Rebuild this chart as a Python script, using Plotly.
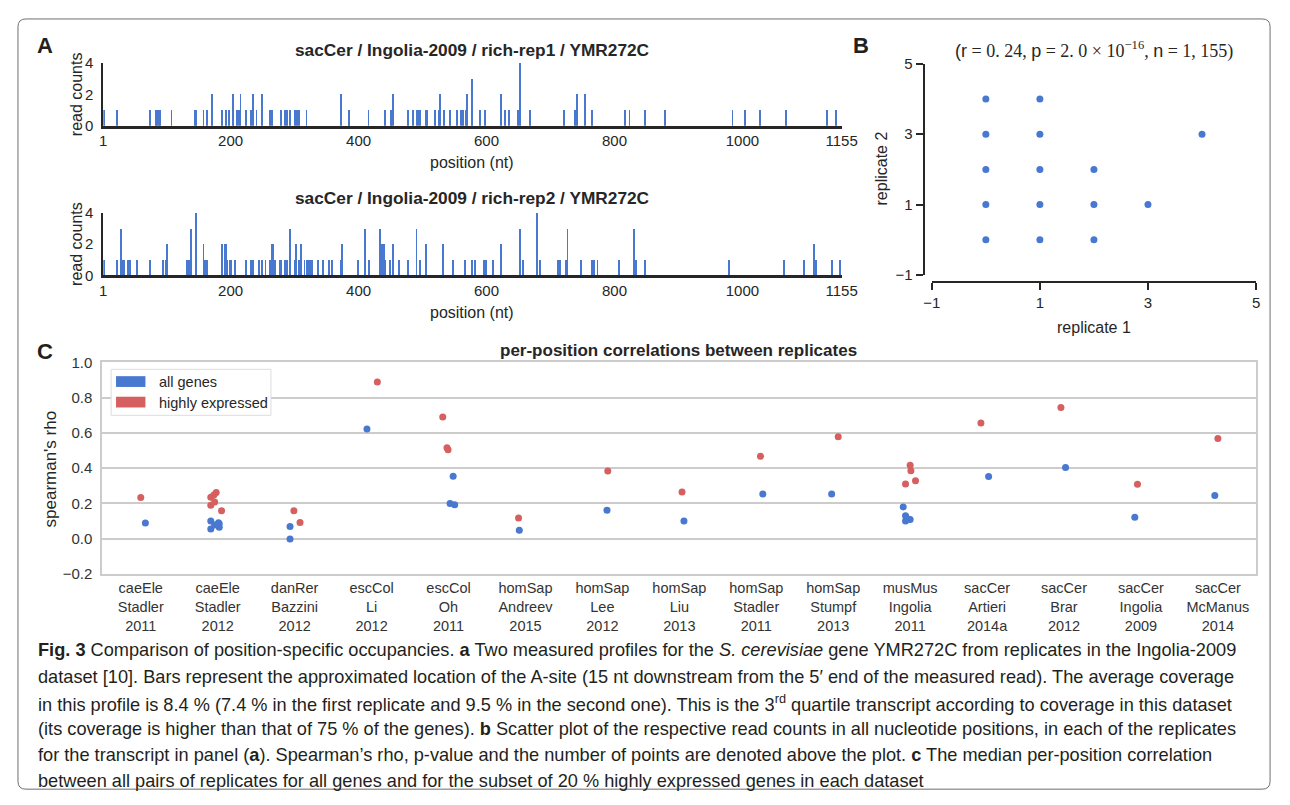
import plotly.graph_objects as go

# The page body keeps an 8 px margin, so the figure is drawn 8 px smaller and coordinates are offset.
OFF = 8
W, H = 1290 - OFF, 805 - OFF

# ---------------- Panel A data (position in nt, read counts) ----------------
a_xticks = [1, 200, 400, 600, 800, 1000, 1155]
a_yticks = [0, 2, 4]
rep1_pos = [3, 23, 75, 84, 86, 89, 90, 108, 145, 147, 158, 163, 172, 187, 193, 198, 204, 205,
            210, 213, 216, 224, 233, 235, 241, 250, 262, 265, 279, 285, 288, 293, 301, 304, 307,
            319, 373, 385, 386, 416, 442, 451, 452, 454, 478, 485, 491, 494, 497, 506, 508, 520,
            526, 528, 534, 544, 554, 561, 564, 569, 570, 578, 590, 598, 623, 630, 635, 650, 653,
            669, 721, 739, 742, 755, 765, 817, 824, 848, 880, 985, 1005, 1028, 1069, 1132, 1147]
rep1_cnt = [1, 1, 1, 1, 1, 1, 1, 1, 1, 1, 1, 1, 2, 1, 1, 1, 2, 2,
            1, 1, 2, 1, 1, 2, 1, 2, 1, 1, 1, 1, 1, 1, 1, 1, 1,
            1, 2, 1, 1, 1, 1, 1, 1, 2, 1, 1, 1, 1, 1, 1, 1, 1,
            1, 2, 1, 1, 1, 1, 1, 1, 2, 3, 1, 1, 2, 1, 1, 1, 4,
            1, 1, 1, 2, 2, 1, 1, 1, 1, 1, 1, 1, 1, 1, 1, 1]
rep2_pos = [3, 23, 29, 31, 34, 40, 43, 54, 74, 95, 100, 101, 132, 136, 138, 147, 158, 161, 163,
            187, 192, 193, 195, 199, 201, 207, 224, 233, 235, 245, 250, 255, 262, 265, 267, 270,
            278, 279, 285, 288, 293, 301, 302, 308, 311, 316, 319, 322, 325, 327, 328, 337, 344,
            345, 354, 359, 373, 374, 400, 411, 417, 434, 436, 437, 440, 442, 449, 454, 463, 478,
            491, 497, 506, 532, 548, 567, 578, 583, 597, 598, 600, 610, 623, 653, 658, 679, 684,
            712, 715, 725, 727, 748, 765, 768, 774, 807, 831, 834, 848, 979, 1066, 1097, 1112,
            1115, 1141, 1153]
rep2_cnt = [1, 1, 3, 1, 1, 1, 1, 1, 1, 1, 1, 2, 1, 1, 3, 4, 2, 1, 1,
            2, 2, 2, 1, 1, 1, 1, 1, 1, 1, 1, 1, 1, 1, 2, 2, 1,
            1, 1, 1, 1, 3, 1, 2, 1, 2, 1, 1, 1, 1, 1, 1, 1, 1,
            1, 1, 1, 1, 2, 1, 3, 1, 3, 1, 2, 2, 1, 1, 2, 1, 1,
            3, 1, 2, 2, 1, 1, 1, 1, 1, 1, 1, 1, 2, 3, 1, 4, 1,
            1, 1, 1, 3, 1, 1, 1, 1, 1, 3, 1, 1, 1, 1, 1, 2,
            1, 1, 1]
title_rep1 = "sacCer / Ingolia-2009 / rich-rep1 / YMR272C"
title_rep2 = "sacCer / Ingolia-2009 / rich-rep2 / YMR272C"

# ---------------- Panel B data (distinct count pairs) ----------------
b_rep1 = [0, 1, 2, 0, 1, 2, 3, 0, 1, 2, 0, 1, 4, 0, 1]
b_rep2 = [0, 0, 0, 1, 1, 1, 1, 2, 2, 2, 3, 3, 3, 4, 4]
b_ticks = [-1, 1, 3, 5]

# ---------------- Panel C data ----------------
org = ["caeEle", "caeEle", "danRer", "escCol", "escCol", "homSap", "homSap", "homSap",
       "homSap", "homSap", "musMus", "sacCer", "sacCer", "sacCer", "sacCer"]
author = ["Stadler", "Stadler", "Bazzini", "Li", "Oh", "Andreev", "Lee", "Liu",
          "Stadler", "Stumpf", "Ingolia", "Artieri", "Brar", "Ingolia", "McManus"]
year = ["2011", "2012", "2012", "2012", "2011", "2015", "2012", "2013",
        "2011", "2013", "2011", "2014a", "2012", "2009", "2014"]
rho_all = [[0.089], [0.10, 0.09, 0.085, 0.065, 0.055, 0.078], [0.069, -0.002], [0.623],
           [0.354, 0.199, 0.193], [0.048], [0.161], [0.100], [0.254], [0.254],
           [0.180, 0.130, 0.100, 0.108, 0.112], [0.352], [0.404], [0.121], [0.245]]
rho_high = [[0.234], [0.235, 0.248, 0.262, 0.208, 0.19, 0.158], [0.158, 0.091], [0.889],
            [0.690, 0.516, 0.505], [0.117], [0.384], [0.265], [0.468], [0.579],
            [0.416, 0.386, 0.328, 0.310], [0.657], [0.744], [0.308], [0.568]]
# horizontal strip-plot jitter (category units)
jit_all = [[0.06], [-0.09, 0.01, 0.02, 0.02, -0.09, -0.04], [-0.06, -0.06], [-0.06],
           [0.06, 0.02, 0.08], [-0.08], [0.06], [0.06], [0.085], [-0.02],
           [-0.09, -0.06, -0.06, 0.0, -0.03], [0.02], [0.02], [-0.08], [-0.04]]
jit_high = [[0.0], [-0.09, -0.05, -0.02, -0.04, -0.09, 0.05], [-0.01, 0.07], [0.075],
            [-0.075, -0.02, -0.006], [-0.09], [0.07], [0.035], [0.055], [0.065],
            [0.0, 0.01, 0.07, -0.06], [-0.08], [-0.04], [-0.045], [0.0]]
c_yticks = [-0.2, 0.0, 0.2, 0.4, 0.6, 0.8, 1.0]
legend_labels = ["all genes", "highly expressed"]

BLUE = "#4878CF"
RED = "#D65F5F"
DARK = "#262626"
SANS = "Liberation Sans, Arial, sans-serif"


def fx(px):
    return (px - OFF) / W


def fy(py):
    return 1 - (py - OFF) / H


fig = go.Figure()

# ---- Panel A bars
fig.add_trace(go.Bar(x=rep1_pos, y=rep1_cnt, width=1.4, marker=dict(color=BLUE, line=dict(width=0)),
                     xaxis="x", yaxis="y", showlegend=False))
fig.add_trace(go.Bar(x=rep2_pos, y=rep2_cnt, width=1.4, marker=dict(color=BLUE, line=dict(width=0)),
                     xaxis="x2", yaxis="y2", showlegend=False))

# ---- Panel B scatter
fig.add_trace(go.Scatter(x=b_rep1, y=b_rep2, mode="markers", marker=dict(color=BLUE, size=7),
                         xaxis="x3", yaxis="y3", showlegend=False))

# ---- Panel C strip plot
xa, ya, xh, yh = [], [], [], []
for i in range(len(org)):
    for v, j in zip(rho_all[i], jit_all[i]):
        xa.append(i + j)
        ya.append(v)
    for v, j in zip(rho_high[i], jit_high[i]):
        xh.append(i + j)
        yh.append(v)
fig.add_trace(go.Scatter(x=xa, y=ya, mode="markers", marker=dict(color=BLUE, size=7),
                         name=legend_labels[0], xaxis="x4", yaxis="y4", showlegend=False))
fig.add_trace(go.Scatter(x=xh, y=yh, mode="markers", marker=dict(color=RED, size=7),
                         name=legend_labels[1], xaxis="x4", yaxis="y4", showlegend=False))

tickfont = dict(family=SANS, size=15, color=DARK)

a_x_common = dict(range=[1, 1155], tickvals=a_xticks, showline=True, linecolor=DARK, linewidth=2.5,
                  ticks="", showgrid=False, zeroline=False, tickfont=tickfont, ticklabelstandoff=0)
a_y_common = dict(range=[0, 4], tickvals=a_yticks, showline=True, linecolor=DARK, linewidth=2,
                  ticks="", showgrid=False, zeroline=False, tickfont=tickfont, ticklabelstandoff=5)

cats = [f"{o}<br>{a}<br>{y}" for o, a, y in zip(org, author, year)]

fig.update_layout(
    width=W, height=H, margin=dict(l=0, r=0, t=0, b=0),
    paper_bgcolor="white", plot_bgcolor="rgba(0,0,0,0)",
    bargap=0, showlegend=False,
    xaxis=dict(domain=[fx(96), fx(849)], anchor="y", **a_x_common),
    yaxis=dict(domain=[fy(119), fy(55)], anchor="x", **a_y_common),
    xaxis2=dict(domain=[fx(96), fx(849)], anchor="y2", **a_x_common),
    yaxis2=dict(domain=[fy(272), fy(208)], anchor="x2", **a_y_common),
    xaxis3=dict(domain=[fx(941), fx(1271.7)], anchor="free", position=fy(278.3), range=[-1, 5],
                tickvals=b_ticks, showline=True, linecolor=DARK, linewidth=2, ticks="outside",
                ticklen=7, tickwidth=2, tickcolor=DARK, showgrid=False, zeroline=False, tickfont=tickfont),
    yaxis3=dict(domain=[fy(271.7), fy(55.7)], anchor="free", position=fx(932.7), range=[-1, 5],
                tickvals=b_ticks, showline=True, linecolor=DARK, linewidth=2, ticks="outside",
                ticklen=7, tickwidth=2, tickcolor=DARK, showgrid=False, zeroline=False, tickfont=tickfont),
    xaxis4=dict(domain=[fx(95), fx(1272)], anchor="y4", range=[-0.5, 14.5], tickvals=list(range(len(cats))),
                ticktext=cats, showline=True, mirror=True, linecolor="#cccccc", linewidth=2,
                showgrid=False, zeroline=False, ticks="", tickfont=dict(family=SANS, size=14.5, color="#333333"),
                ticklabelstandoff=0),
    yaxis4=dict(domain=[fy(577), fy(361)], anchor="x4", range=[-0.2, 1.0], tickvals=c_yticks,
                tickformat=".1f", showline=True, mirror=True, linecolor="#cccccc", linewidth=2,
                showgrid=True, gridcolor="#cccccc", gridwidth=1.5, zeroline=False, ticks="",
                tickfont=dict(family=SANS, size=15, color="#333333"), ticklabelstandoff=5),
)

anns = []


def ann(text, x, y, size=14, color=DARK, xanchor="center", yanchor="middle", angle=0, family=SANS):
    anns.append(dict(text=text, x=fx(x), y=fy(y), xref="paper", yref="paper", showarrow=False,
                     xanchor=xanchor, yanchor=yanchor, textangle=angle,
                     font=dict(family=family, size=size, color=color)))


# panel letters
ann("<b>A</b>", 37, 37, size=22, color="#231f20")
ann("<b>B</b>", 869, 37, size=22, color="#231f20")
ann("<b>C</b>", 37, 350, size=22, color="#231f20")

# panel A texts
ann(f"<b>{title_rep1}</b>", 472, 42, size=17.3)
ann(f"<b>{title_rep2}</b>", 472, 193, size=17.3)
ann("position (nt)", 472, 157, size=16)
ann("position (nt)", 472, 310, size=16)
ann("read counts", 68, 87, size=16, angle=-90)
ann("read counts", 68, 240, size=16, angle=-90)

# panel B texts
SER = "font-family:Liberation Serif"
b_title = (f"(r<span style='{SER}'> = 0. 24, </span>p<span style='{SER}'> = 2. 0 × 10<sup>−16</sup>, </span>"
           f"n<span style='{SER}'> = 1, 155)</span>")
b_title = b_title.replace("'", '"')
ann(b_title, 1106, 42, size=18)
ann("replicate 2", 890, 163, size=16, angle=-90)
ann("replicate 1", 1106, 325, size=16)

# panel C texts
ann("<b>per-position correlations between replicates</b>", 683, 349, size=17)
ann("spearman's rho", 42, 470, size=17, angle=-90)

shapes = []
# legend of panel C
shapes.append(dict(type="rect", xref="paper", yref="paper", x0=fx(104), x1=fx(267), y0=fy(415), y1=fy(368),
                   line=dict(color="#dddddd", width=1), fillcolor="white", layer="above"))
shapes.append(dict(type="rect", xref="paper", yref="paper", x0=fx(109), x1=fx(139), y0=fy(386), y1=fy(375),
                   line=dict(width=0), fillcolor=BLUE, layer="above"))
shapes.append(dict(type="rect", xref="paper", yref="paper", x0=fx(109), x1=fx(139), y0=fy(407), y1=fy(396),
                   line=dict(width=0), fillcolor=RED, layer="above"))
ann(legend_labels[0], 151, 381, size=14.5, xanchor="left")
ann(legend_labels[1], 151, 402, size=14.5, xanchor="left")

# outer rounded frame
r = 8
x0, x1, y0, y1 = 9, 1286, 10, 797
path = (f"M {fx(x0)},{fy(y0 + r)} Q {fx(x0)},{fy(y0)} {fx(x0 + r)},{fy(y0)} "
        f"L {fx(x1 - r)},{fy(y0)} Q {fx(x1)},{fy(y0)} {fx(x1)},{fy(y0 + r)} "
        f"L {fx(x1)},{fy(y1 - r)} Q {fx(x1)},{fy(y1)} {fx(x1 - r)},{fy(y1)} "
        f"L {fx(x0 + r)},{fy(y1)} Q {fx(x0)},{fy(y1)} {fx(x0)},{fy(y1 - r)} Z")
shapes.append(dict(type="path", xref="paper", yref="paper", path=path,
                   line=dict(color="#6d6e71", width=1), layer="below"))

# caption
CAP = "Liberation Sans, Arial, sans-serif"
caption = [
    "<b>Fig. 3</b> Comparison of position-specific occupancies. <b>a</b> Two measured profiles for the "
    "<i>S. cerevisiae</i> gene YMR272C from replicates in the Ingolia-2009",
    "dataset [10]. Bars represent the approximated location of the A-site (15 nt downstream from the 5′ end "
    "of the measured read). The average coverage",
    "in this profile is 8.4 % (7.4 % in the first replicate and 9.5 % in the second one). This is the "
    "3<sup>rd</sup> quartile transcript according to coverage in this dataset",
    "(its coverage is higher than that of 75 % of the genes). <b>b</b> Scatter plot of the respective read "
    "counts in all nucleotide positions, in each of the replicates",
    "for the transcript in panel (<b>a</b>). Spearman’s rho, p-value and the number of points are denoted "
    "above the plot. <b>c</b> The median per-position correlation",
    "between all pairs of replicates for all genes and for the subset of 20 % highly expressed genes in "
    "each dataset",
]
cap_y = [655, 682, 709, 736, 762, 789]
for t, yy in zip(caption, cap_y):
    ann(t, 27, yy, size=18.2, color="#231f20", xanchor="left", family=CAP)

fig.update_layout(annotations=anns, shapes=shapes)

fig.write_html("out.html", config={"displayModeBar": False})
